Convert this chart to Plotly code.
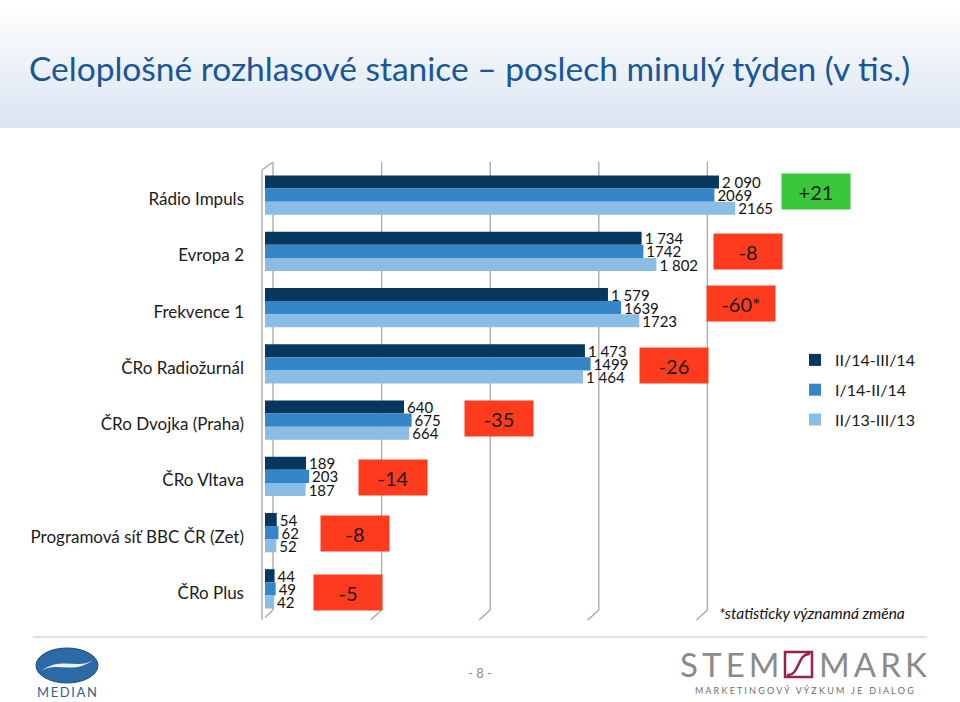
"""Celoplošné rozhlasové stanice – poslech minulý týden (horizontal grouped bars)."""

import plotly.graph_objects as go

W, H = 960, 702

stations = [
    "Rádio Impuls",
    "Evropa 2",
    "Frekvence 1",
    "ČRo Radiožurnál",
    "ČRo Dvojka (Praha)",
    "ČRo Vltava",
    "Programová síť BBC ČR (Zet)",
    "ČRo Plus",
]

period_names = ["II/14-III/14", "I/14-II/14", "II/13-III/13"]

listeners_feb_mar_14 = [2090, 1734, 1579, 1473, 640, 189, 54, 44]
listeners_jan_feb_14 = [2069, 1742, 1639, 1499, 675, 203, 62, 49]
listeners_feb_mar_13 = [2165, 1802, 1723, 1464, 664, 187, 52, 42]

# labels exactly as printed on the slide (mixed thousand separators)
labels_feb_mar_14 = ["2 090", "1 734", "1 579", "1 473", "640", "189", "54", "44"]
labels_jan_feb_14 = ["2069", "1742", "1639", "1499", "675", "203", "62", "49"]
labels_feb_mar_13 = ["2165", "1 802", "1723", "1 464", "664", "187", "52", "42"]

changes = ["+21", "-8", "-60*", "-26", "-35", "-14", "-8", "-5"]

grid_ticks = [0, 500, 1000, 1500, 2000, 2500]

# layout: centre of each change box on the slide, in pixels
_BOX_CENTERS = [
    (816, 191), (748, 251), (741, 304), (674, 365),
    (499, 418), (393, 478), (355, 533), (348, 592),
]

_COLORS = ["#07375c", "#3585c9", "#8bbde4"]
_RED = "#ff3b1e"
_GREEN = "#3ac83a"
_FONT = "Lato, 'Open Sans', sans-serif"


def fx(px):
    return px / W


def fy(py):
    return 1 - py / H


series = [
    (listeners_feb_mar_14, labels_feb_mar_14),
    (listeners_jan_feb_14, labels_jan_feb_14),
    (listeners_feb_mar_13, labels_feb_mar_13),
]

fig = go.Figure()
for i, ((values, labels), name) in enumerate(zip(series, period_names)):
    fig.add_trace(
        go.Bar(
            y=stations,
            x=values,
            name=name,
            orientation="h",
            marker=dict(color=_COLORS[i], line=dict(width=0)),
            text=labels,
            textposition="outside",
            textfont=dict(family=_FONT, size=15, color="#111111"),
            constraintext="none",
            cliponaxis=False,
            legendgroup=name,
            hoverinfo="skip",
        )
    )

shapes = []

# title band with a soft vertical gradient
top_rgb = (255, 255, 255)
bottom_rgb = (219, 229, 241)
bands = 16
for k in range(bands):
    t = k / (bands - 1)
    c = tuple(int(round(a + (b - a) * t)) for a, b in zip(top_rgb, bottom_rgb))
    shapes.append(
        dict(
            type="rect", xref="paper", yref="paper",
            x0=0, x1=1, y0=fy(128 * (k + 1) / bands), y1=fy(128 * k / bands),
            fillcolor="rgb(%d,%d,%d)" % c, line=dict(width=0), layer="below",
        )
    )

# back-wall gridlines with the little perspective feet
for v in grid_ticks:
    shapes.append(
        dict(
            type="line", xref="x", yref="paper", xsizemode="pixel", xanchor=v,
            x0=8, x1=8, y0=fy(610), y1=fy(162),
            line=dict(color="#a6a6a6", width=1.3), layer="below",
        )
    )
    shapes.append(
        dict(
            type="line", xref="x", yref="paper", xsizemode="pixel", xanchor=v,
            x0=8, x1=-3, y0=fy(610), y1=fy(620),
            line=dict(color="#a6a6a6", width=1.3), layer="below",
        )
    )
# front left edge of the 3D wall
shapes.append(
    dict(
        type="path", xref="paper", yref="paper",
        path="M %f,%f L %f,%f L %f,%f" % (fx(262), fy(620), fx(262), fy(170), fx(273), fy(162)),
        line=dict(color="#a6a6a6", width=1.3), layer="below",
    )
)

# footer separator
shapes.append(
    dict(
        type="line", xref="paper", yref="paper",
        x0=fx(33), x1=fx(927), y0=fy(637), y1=fy(637),
        line=dict(color="#c8dbee", width=1.5),
    )
)

# MEDIAN logo (stylised ring)
shapes.append(
    dict(
        type="circle", xref="paper", yref="paper",
        x0=fx(36), x1=fx(98), y0=fy(683), y1=fy(648),
        fillcolor="#2c6aa6", line=dict(color="#1d4f82", width=1),
    )
)
shapes.append(
    dict(
        type="path", xref="paper", yref="paper",
        path="M %f,%f C %f,%f %f,%f %f,%f C %f,%f %f,%f %f,%f Z" % (
            fx(40), fy(672),
            fx(55), fy(660), fx(75), fy(676), fx(94), fy(659),
            fx(80), fy(671), fx(60), fy(655), fx(40), fy(672),
        ),
        fillcolor="#e9f0f7", line=dict(width=0),
    )
)

# STEM/MARK square with the S stroke
shapes.append(
    dict(
        type="rect", xref="paper", yref="paper",
        x0=fx(785), x1=fx(812), y0=fy(677), y1=fy(652),
        line=dict(color="#9a1f4c", width=2.5),
    )
)
shapes.append(
    dict(
        type="path", xref="paper", yref="paper",
        path="M %f,%f C %f,%f %f,%f %f,%f" % (
            fx(787), fy(675), fx(800), fy(676), fx(797), fy(653), fx(810), fy(654),
        ),
        line=dict(color="#9a1f4c", width=2.5),
    )
)

annotations = [
    dict(
        text="Celoplošné rozhlasové stanice – poslech minulý týden (v tis.)",
        x=fx(27), y=fy(68), xref="paper", yref="paper",
        xanchor="left", yanchor="middle", showarrow=False,
        font=dict(family=_FONT, size=33.5, color="#17569b"),
    ),
    dict(
        text="<i>*statisticky významná změna</i>",
        x=fx(717), y=fy(613), xref="paper", yref="paper",
        xanchor="left", yanchor="middle", showarrow=False,
        font=dict(family=_FONT, size=15.5, color="#111111"),
    ),
    dict(
        text="- 8 -",
        x=0.5, y=fy(673), xref="paper", yref="paper",
        xanchor="center", yanchor="middle", showarrow=False,
        font=dict(family=_FONT, size=13, color="#8c8c8c"),
    ),
    dict(
        text="M\u2009E\u2009D\u2009I\u2009A\u2009N",
        x=fx(67), y=fy(692), xref="paper", yref="paper",
        xanchor="center", yanchor="middle", showarrow=False,
        font=dict(family=_FONT, size=13, color="#2f5f90"),
    ),
    dict(
        text="S\u2009T\u2009E\u2009M",
        x=fx(781), y=fy(664), xref="paper", yref="paper",
        xanchor="right", yanchor="middle", showarrow=False,
        font=dict(family=_FONT, size=33, color="#8a8a8a"),
    ),
    dict(
        text="M\u2009A\u2009R\u2009K",
        x=fx(817), y=fy(664), xref="paper", yref="paper",
        xanchor="left", yanchor="middle", showarrow=False,
        font=dict(family=_FONT, size=33, color="#8a8a8a"),
    ),
    dict(
        text="M A R K E T I N G O V Ý   V Ý Z K U M   J E   D I A L O G",
        x=fx(804), y=fy(690), xref="paper", yref="paper",
        xanchor="center", yanchor="middle", showarrow=False,
        font=dict(family=_FONT, size=9, color="#6e6e6e"),
    ),
]

for change, (cx, cy) in zip(changes, _BOX_CENTERS):
    annotations.append(
        dict(
            text=change,
            x=fx(cx), y=fy(cy), xref="paper", yref="paper",
            xanchor="center", yanchor="middle", showarrow=False,
            width=62, height=29, borderpad=3,
            bgcolor=_GREEN if change.startswith("+") else _RED,
            font=dict(family=_FONT, size=20, color="#1a1a1a"),
        )
    )

fig.update_layout(
    width=W,
    height=H,
    margin=dict(l=0, r=0, t=0, b=0),
    paper_bgcolor="white",
    plot_bgcolor="rgba(0,0,0,0)",
    barmode="group",
    bargap=0.3,
    bargroupgap=0,
    font=dict(family=_FONT, color="#1a1a1a"),
    showlegend=True,
    legend=dict(
        x=fx(795), y=fy(343), xanchor="left", yanchor="top",
        traceorder="grouped", tracegroupgap=6, itemwidth=30,
        font=dict(family=_FONT, size=16, color="#1a1a1a"),
        bgcolor="rgba(0,0,0,0)",
    ),
    xaxis=dict(
        domain=[fx(265), fx(808)],
        range=[grid_ticks[0], grid_ticks[-1]],
        showgrid=False, zeroline=False, showticklabels=False,
        showline=False, ticks="", automargin=False, fixedrange=True,
    ),
    yaxis=dict(
        domain=[fy(617), fy(167)],
        type="category",
        categoryorder="array",
        categoryarray=stations,
        autorange="reversed",
        showgrid=False, zeroline=False, showline=False, ticks="",
        ticklabelstandoff=20,
        ticklabelshift=-4,
        tickfont=dict(family=_FONT, size=17, color="#1a1a1a"),
        automargin=False, fixedrange=True,
    ),
    shapes=shapes,
    annotations=annotations,
)

# the slide fills the whole window, so drop the default page margin
fig.write_html(
    "out.html",
    config={"displayModeBar": False},
    post_script="document.body.style.margin='0';document.body.style.overflow='hidden';",
)
